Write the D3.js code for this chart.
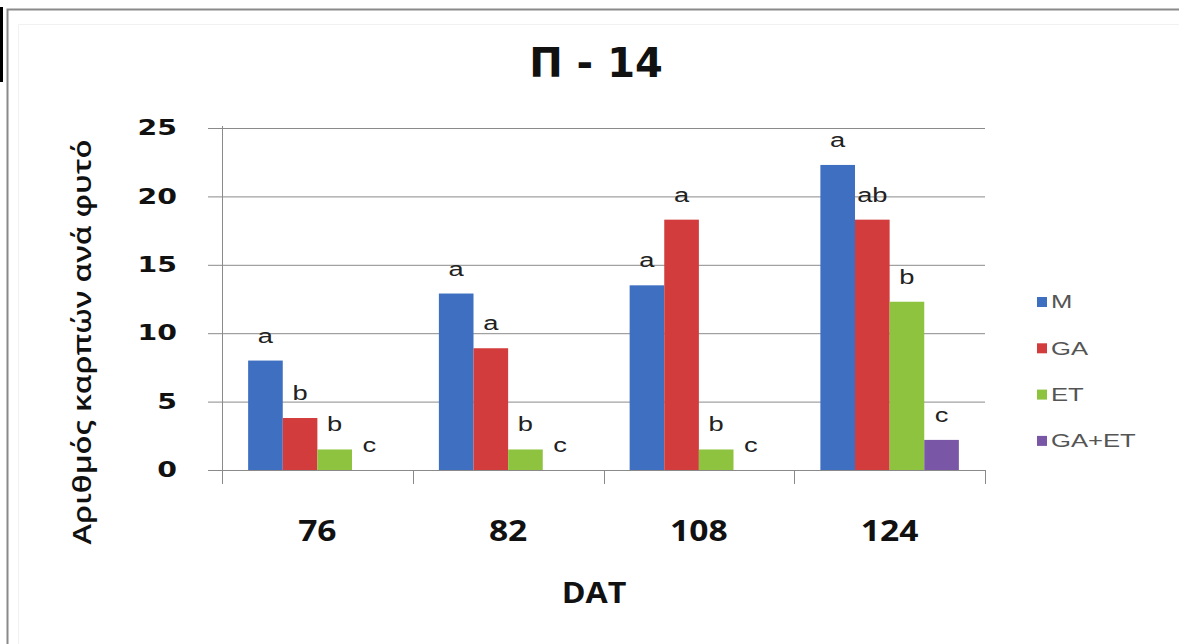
<!DOCTYPE html>
<html>
<head>
<meta charset="utf-8">
<script src="https://cdn.jsdelivr.net/npm/d3@7"></script>
<style>
html,body{margin:0;padding:0;background:#fff;}
svg{display:block;}
</style>
</head>
<body>
<script>
// ---- data ----
const title = "Π - 14";
const yLabel = "Αριθμός καρπών ανά φυτό";
const xLabel = "DAT";
const categories = ["76", "82", "108", "124"];
const series = ["M", "GA", "ET", "GA+ET"];
const valuesM    = [8.0, 12.9, 13.5, 22.3];
const valuesGA   = [3.8, 8.9, 18.3, 18.3];
const valuesET   = [1.5, 1.5, 1.5, 12.3];
const valuesGAET = [0, 0, 0, 2.2];
const lettersM    = ["a", "a", "a", "a"];
const lettersGA   = ["b", "a", "a", "ab"];
const lettersET   = ["b", "b", "b", "b"];
const lettersGAET = ["c", "c", "c", "c"];
const yTicks = [0, 5, 10, 15, 20, 25];
const colors = ["#3E6FC1", "#D23C3C", "#8DC33F", "#7A56A6"];

const seriesValues = [valuesM, valuesGA, valuesET, valuesGAET];
const seriesLetters = [lettersM, lettersGA, lettersET, lettersGAET];
const table = [];
categories.forEach((c, i) => series.forEach((s, j) => table.push({
  cat: c, ser: s, value: seriesValues[j][i], letter: seriesLetters[j][i], color: colors[j]
})));

// ---- layout ----
const W = 1179, H = 644;
const plot = {left: 222, right: 985, top: 128, bottom: 470};
const sx = 1.35; // horizontal stretch of text as in the original picture

const svg = d3.select("body").append("svg").attr("width", W).attr("height", H);
svg.append("rect").attr("width", W).attr("height", H).attr("fill", "#fff");

// frame
svg.append("rect").attr("x", 0).attr("y", 7).attr("width", 3).attr("height", 75).attr("fill", "#000");
svg.append("path").attr("d", `M7.5,${H} V9.5 H${W}`).attr("fill", "none").attr("stroke", "#8a8a8a").attr("stroke-width", 2);
svg.append("path").attr("d", `M18.5,${H} V24.5 H${W}`).attr("fill", "none").attr("stroke", "#f1f1f1").attr("stroke-width", 1);

const x0 = d3.scaleBand().domain(categories).range([plot.left, plot.right]).paddingInner(0).paddingOuter(0);
const bw = x0.bandwidth();
const x1 = d3.scaleBand().domain(series).range([bw * 0.137, bw * (1 - 0.137)]).padding(0);
const y = d3.scaleLinear().domain([0, 25]).range([plot.bottom, plot.top]);

// gridlines
const gy = svg.append("g").attr("transform", `translate(${plot.right},0)`)
  .call(d3.axisLeft(y).tickValues(yTicks).tickSize(plot.right - plot.left + 14).tickFormat(""));
gy.select(".domain").remove();
gy.selectAll(".tick line").attr("stroke", "#8a8a8a").attr("stroke-width", 1);

// y axis line
svg.append("line").attr("x1", plot.left + 0.5).attr("x2", plot.left + 0.5)
  .attr("y1", plot.top - 2).attr("y2", plot.bottom + 14).attr("stroke", "#8a8a8a");

// category ticks
svg.selectAll(".cattick").data(categories).enter().append("line")
  .attr("x1", d => Math.round(x0(d) + bw) + 0.5).attr("x2", d => Math.round(x0(d) + bw) + 0.5)
  .attr("y1", plot.bottom).attr("y2", plot.bottom + 14).attr("stroke", "#8a8a8a");

// bars
svg.selectAll(".bar").data(table.filter(d => d.value > 0)).enter().append("rect")
  .attr("x", d => x0(d.cat) + x1(d.ser))
  .attr("y", d => y(d.value))
  .attr("width", x1.bandwidth())
  .attr("height", d => y(0) - y(d.value))
  .attr("fill", d => d.color);

// baseline on top
svg.append("line").attr("x1", plot.left - 14).attr("x2", plot.right)
  .attr("y1", plot.bottom + 0.5).attr("y2", plot.bottom + 0.5).attr("stroke", "#8a8a8a");

function stretched(sel, x, y, s) {
  return sel.attr("transform", `translate(${x},${y}) scale(${s},1)`);
}

// letters above bars
table.forEach(d => {
  const cx = x0(d.cat) + x1(d.ser) + x1.bandwidth() / 2;
  const t = svg.append("text").text(d.letter)
    .attr("text-anchor", "middle")
    .attr("font-family", "'Liberation Sans', Arial, sans-serif")
    .attr("font-size", 21).attr("fill", "#222");
  stretched(t, cx, y(d.value) - 18, 1.3);
});

// y tick labels
yTicks.forEach(v => {
  const t = svg.append("text").text(v).attr("text-anchor", "end")
    .attr("font-family", "'DejaVu Sans', Verdana, sans-serif").attr("font-weight", "bold")
    .attr("font-size", 21).attr("fill", "#111").attr("dominant-baseline", "central");
  stretched(t, 177, y(v), sx);
});

// category labels
categories.forEach(c => {
  const t = svg.append("text").text(c).attr("text-anchor", "middle")
    .attr("font-family", "'Open Sans', sans-serif").attr("font-weight", "bold")
    .attr("font-size", 28).attr("fill", "#111");
  stretched(t, x0(c) + bw / 2, 541, 1.2);
});

// x label
stretched(svg.append("text").text(xLabel).attr("text-anchor", "middle")
  .attr("font-family", "'Open Sans', sans-serif").attr("font-weight", "bold")
  .attr("font-size", 28).attr("fill", "#111"), 594, 603, 1.15);

// title
svg.append("text").text(title).attr("x", 596).attr("y", 77).attr("text-anchor", "middle")
  .attr("font-family", "'DejaVu Sans', Verdana, sans-serif").attr("font-weight", "bold")
  .attr("font-size", 40).attr("fill", "#111");

// y label
svg.append("text").text(yLabel)
  .attr("transform", "translate(91,342) rotate(-90)")
  .attr("text-anchor", "middle")
  .attr("font-family", "'Open Sans', sans-serif").attr("font-weight", 600)
  .attr("font-size", 25).attr("fill", "#111")
  .attr("textLength", 405).attr("lengthAdjust", "spacingAndGlyphs");

// legend
const leg = svg.append("g");
series.forEach((s, i) => {
  const cy = 302 + i * 46.3;
  leg.append("rect").attr("x", 1037).attr("y", cy - 5).attr("width", 10).attr("height", 10).attr("fill", colors[i]);
  const t = leg.append("text").text(s).attr("font-family", "'Liberation Sans', Arial, sans-serif")
    .attr("font-size", 19).attr("fill", "#555").attr("dominant-baseline", "central");
  stretched(t, 1051, cy, sx);
});
</script>
</body>
</html>
